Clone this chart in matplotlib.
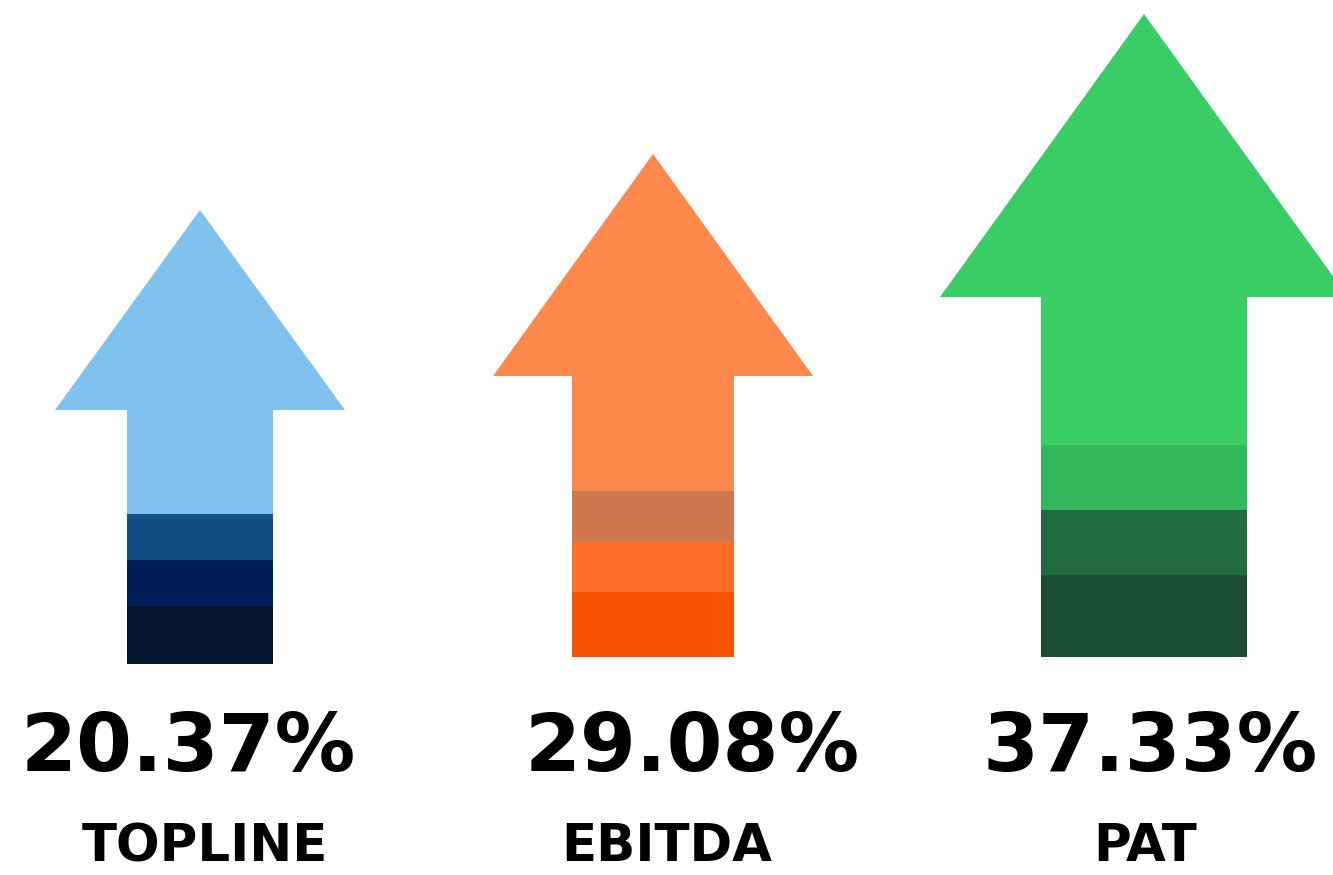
import numpy as np
import matplotlib.pyplot as plt
from matplotlib.patches import Polygon

# ----------------------------
# Data
# ----------------------------
metrics = ["TOPLINE", "EBITDA", "PAT"]
growth_pct = [20.37, 29.08, 37.33]

# colours: head/shaft top, then stripes from top to bottom
head_colors = ["#80C1EE", "#FF884D", "#3ACD66"]
stripe_colors = [
    ["#114C82", "#001F5A", "#04142D"],
    ["#CD774E", "#FF6E26", "#F75200"],
    ["#33B85C", "#226B42", "#1C4F32"],
]

# ----------------------------
# Layout (pixel units, y up)
# ----------------------------
W, H = 1333, 875
centers = [200, 653, 1144]
shaft_hw = [73, 81, 103]
head_hw = [145, 160, 204]
head_base = [465, 499, 578]
tip = [665, 721, 861]
bottom = [211, 218, 218]
# stripe boundaries (top of each stripe, from top to bottom)
stripe_tops = [[361, 315, 269], [384, 333, 283], [430, 365, 300]]
pct_x = [188, 692, 1150]
label_x = [205, 667, 1145]

fig = plt.figure(figsize=(W / 100, H / 100), dpi=100)
ax = fig.add_axes([0, 0, 1, 1])
ax.set_xlim(0, W)
ax.set_ylim(0, H)
ax.axis("off")

for i in range(len(metrics)):
    c = centers[i]
    # shaft (light part) + stripes as stacked bars
    tops = [head_base[i]] + stripe_tops[i]
    cols = [head_colors[i]] + stripe_colors[i]
    for j in range(len(tops)):
        lo = tops[j + 1] if j + 1 < len(tops) else bottom[i]
        ax.bar(c, tops[j] - lo, bottom=lo, width=2 * shaft_hw[i],
               color=cols[j], linewidth=0)
    # arrow head
    head = Polygon([[c - head_hw[i], head_base[i]],
                    [c + head_hw[i], head_base[i]],
                    [c, tip[i]]], closed=True,
                   facecolor=head_colors[i], edgecolor="none")
    ax.add_patch(head)

    ax.text(pct_x[i], 126, f"{growth_pct[i]:.2f}%", ha="center", va="center",
            fontsize=58, fontweight="heavy", family="DejaVu Sans")
    ax.text(label_x[i], 28, metrics[i], ha="center", va="center",
            fontsize=37, fontweight="heavy", family="DejaVu Sans")

fig.savefig("out.png", dpi=100)
